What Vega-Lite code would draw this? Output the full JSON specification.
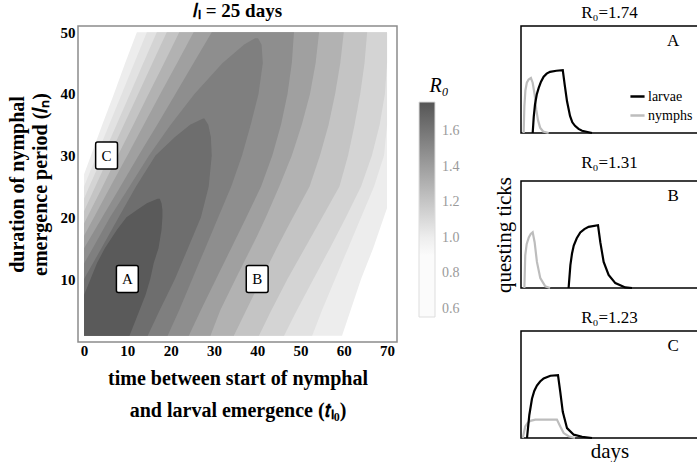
{
 "$schema": "https://vega.github.io/schema/vega-lite/v6.json",
 "padding": {"left": 6, "top": 1, "right": 0, "bottom": 0},
 "config": {"font": "Liberation Serif", "view": {"stroke": null}},
 "datasets": {
  "bands": [
   {"band":"s9","r0":1.005,"y":0.8,"xl":0,"xr":59.6},{"band":"s9","r0":1.005,"y":5,"xl":0,"xr":61.6},{"band":"s9","r0":1.005,"y":10,"xl":0,"xr":64},{"band":"s9","r0":1.005,"y":15,"xl":0,"xr":66.8},{"band":"s9","r0":1.005,"y":21.5,"xl":0,"xr":70},{"band":"s9","r0":1.005,"y":27,"xl":0,"xr":70},{"band":"s9","r0":1.005,"y":30,"xl":1.6,"xr":70},{"band":"s9","r0":1.005,"y":35,"xl":4.2,"xr":70},{"band":"s9","r0":1.005,"y":40,"xl":6.9,"xr":70},{"band":"s9","r0":1.005,"y":45,"xl":9.5,"xr":70},{"band":"s9","r0":1.005,"y":50,"xl":12.2,"xr":70},
   {"band":"s8","r0":1.06,"y":0.8,"xl":0,"xr":52.7},{"band":"s8","r0":1.06,"y":5,"xl":0,"xr":55},{"band":"s8","r0":1.06,"y":10,"xl":0,"xr":58},{"band":"s8","r0":1.06,"y":15,"xl":0,"xr":61},{"band":"s8","r0":1.06,"y":20,"xl":0,"xr":64},{"band":"s8","r0":1.06,"y":25,"xl":0,"xr":67},{"band":"s8","r0":1.06,"y":30,"xl":2.9,"xr":69.3},{"band":"s8","r0":1.06,"y":35,"xl":5.8,"xr":70},{"band":"s8","r0":1.06,"y":40,"xl":8.7,"xr":70},{"band":"s8","r0":1.06,"y":45,"xl":11.6,"xr":70},{"band":"s8","r0":1.06,"y":50,"xl":14.5,"xr":70},
   {"band":"s7","r0":1.13,"y":0.8,"xl":0,"xr":46.2},{"band":"s7","r0":1.13,"y":5,"xl":0,"xr":49.2},{"band":"s7","r0":1.13,"y":10,"xl":0,"xr":53},{"band":"s7","r0":1.13,"y":15,"xl":0,"xr":56.8},{"band":"s7","r0":1.13,"y":20,"xl":0,"xr":60.5},{"band":"s7","r0":1.13,"y":23,"xl":0,"xr":62.6},{"band":"s7","r0":1.13,"y":25,"xl":1.2,"xr":64},{"band":"s7","r0":1.13,"y":30,"xl":4.4,"xr":66.5},{"band":"s7","r0":1.13,"y":35,"xl":7.5,"xr":68.3},{"band":"s7","r0":1.13,"y":40,"xl":10.6,"xr":69.5},{"band":"s7","r0":1.13,"y":45,"xl":13.7,"xr":70},{"band":"s7","r0":1.13,"y":50,"xl":16.8,"xr":70},
   {"band":"s6","r0":1.209,"y":0.8,"xl":0,"xr":40.4},{"band":"s6","r0":1.209,"y":5,"xl":0,"xr":43.3},{"band":"s6","r0":1.209,"y":10,"xl":0,"xr":47},{"band":"s6","r0":1.209,"y":15,"xl":0,"xr":51},{"band":"s6","r0":1.209,"y":21,"xl":0,"xr":55.8},{"band":"s6","r0":1.209,"y":25,"xl":2.6,"xr":59},{"band":"s6","r0":1.209,"y":30,"xl":5.9,"xr":61},{"band":"s6","r0":1.209,"y":35,"xl":9.2,"xr":62.5},{"band":"s6","r0":1.209,"y":40,"xl":12.5,"xr":63.8},{"band":"s6","r0":1.209,"y":45,"xl":15.8,"xr":64.8},{"band":"s6","r0":1.209,"y":50,"xl":19.1,"xr":65.4},
   {"band":"s5","r0":1.299,"y":0.8,"xl":0,"xr":34.6},{"band":"s5","r0":1.299,"y":5,"xl":0,"xr":37.5},{"band":"s5","r0":1.299,"y":10,"xl":0,"xr":41},{"band":"s5","r0":1.299,"y":15,"xl":0,"xr":44.5},{"band":"s5","r0":1.299,"y":19,"xl":0,"xr":47.5},{"band":"s5","r0":1.299,"y":25,"xl":4.3,"xr":52.1},{"band":"s5","r0":1.299,"y":30,"xl":7.8,"xr":54.5},{"band":"s5","r0":1.299,"y":35,"xl":11.4,"xr":56.5},{"band":"s5","r0":1.299,"y":40,"xl":14.9,"xr":58},{"band":"s5","r0":1.299,"y":45,"xl":18.5,"xr":59.2},{"band":"s5","r0":1.299,"y":50,"xl":22,"xr":60},
   {"band":"s4","r0":1.389,"y":0.8,"xl":0,"xr":29.2},{"band":"s4","r0":1.389,"y":5,"xl":0,"xr":31.5},{"band":"s4","r0":1.389,"y":10,"xl":0,"xr":35},{"band":"s4","r0":1.389,"y":17,"xl":0,"xr":40},{"band":"s4","r0":1.389,"y":20,"xl":2.3,"xr":42},{"band":"s4","r0":1.389,"y":25,"xl":6.1,"xr":45.1},{"band":"s4","r0":1.389,"y":30,"xl":10,"xr":48},{"band":"s4","r0":1.389,"y":35,"xl":13.8,"xr":50.3},{"band":"s4","r0":1.389,"y":40,"xl":17.6,"xr":52.2},{"band":"s4","r0":1.389,"y":45,"xl":21.5,"xr":53.5},{"band":"s4","r0":1.389,"y":50,"xl":25.3,"xr":54.3},
   {"band":"s3","r0":1.479,"y":0.8,"xl":0,"xr":24.2},{"band":"s3","r0":1.479,"y":5,"xl":0,"xr":27},{"band":"s3","r0":1.479,"y":10,"xl":0,"xr":30.5},{"band":"s3","r0":1.479,"y":15,"xl":0,"xr":34},{"band":"s3","r0":1.479,"y":20,"xl":4.2,"xr":37.5},{"band":"s3","r0":1.479,"y":25,"xl":8.4,"xr":40.9},{"band":"s3","r0":1.479,"y":30,"xl":12.6,"xr":43.5},{"band":"s3","r0":1.479,"y":35,"xl":16.9,"xr":45.5},{"band":"s3","r0":1.479,"y":40,"xl":21.1,"xr":47},{"band":"s3","r0":1.479,"y":45,"xl":25.3,"xr":48},{"band":"s3","r0":1.479,"y":50,"xl":29.5,"xr":48.5},
   {"band":"s2","r0":1.554,"y":0.8,"xl":0,"xr":19.3},{"band":"s2","r0":1.554,"y":5,"xl":0,"xr":22},{"band":"s2","r0":1.554,"y":10,"xl":0,"xr":25},{"band":"s2","r0":1.554,"y":12.5,"xl":0,"xr":26.5},{"band":"s2","r0":1.554,"y":15,"xl":2,"xr":28},{"band":"s2","r0":1.554,"y":20,"xl":6,"xr":31},{"band":"s2","r0":1.554,"y":25,"xl":10.5,"xr":34},{"band":"s2","r0":1.554,"y":30,"xl":15,"xr":36.5},{"band":"s2","r0":1.554,"y":35,"xl":20,"xr":38.5},{"band":"s2","r0":1.554,"y":40,"xl":25.5,"xr":40.3},{"band":"s2","r0":1.554,"y":45,"xl":32,"xr":41.3},{"band":"s2","r0":1.554,"y":48,"xl":37,"xr":41},{"band":"s2","r0":1.554,"y":49,"xl":39.5,"xr":40.2},
   {"band":"s1","r0":1.638,"y":0.8,"xl":0,"xr":14.7},{"band":"s1","r0":1.638,"y":5,"xl":0,"xr":17.5},{"band":"s1","r0":1.638,"y":10,"xl":0,"xr":21},{"band":"s1","r0":1.638,"y":15,"xl":4,"xr":24},{"band":"s1","r0":1.638,"y":20,"xl":8,"xr":27},{"band":"s1","r0":1.638,"y":25,"xl":12,"xr":28.8},{"band":"s1","r0":1.638,"y":30,"xl":16.5,"xr":29.5},{"band":"s1","r0":1.638,"y":33,"xl":21,"xr":29.3},{"band":"s1","r0":1.638,"y":35,"xl":24.5,"xr":28.7},{"band":"s1","r0":1.638,"y":36,"xl":27.5,"xr":27.8},
   {"band":"s0","r0":1.738,"y":0.8,"xl":0,"xr":10.5},{"band":"s0","r0":1.738,"y":4,"xl":0,"xr":12.3},{"band":"s0","r0":1.738,"y":7.4,"xl":0,"xr":14.2},{"band":"s0","r0":1.738,"y":10,"xl":1.5,"xr":15.3},{"band":"s0","r0":1.738,"y":12.6,"xl":3,"xr":16.1},{"band":"s0","r0":1.738,"y":15,"xl":4.8,"xr":17.2},{"band":"s0","r0":1.738,"y":18,"xl":7.6,"xr":17.9},{"band":"s0","r0":1.738,"y":20,"xl":9.8,"xr":18.1},{"band":"s0","r0":1.738,"y":21.2,"xl":12.2,"xr":18.1},{"band":"s0","r0":1.738,"y":22.3,"xl":14.5,"xr":17.9},{"band":"s0","r0":1.738,"y":23,"xl":17,"xr":17.5}
  ],
  "marks": [
   {"lab":"A","t":10,"l":10},{"lab":"B","t":40,"l":10},{"lab":"C","t":5.2,"l":30}
  ],
  "ticks": [
   {"p":"A","s":"nymphs","d":1.5,"v":0},{"p":"A","s":"nymphs","d":1.9,"v":0.25},{"p":"A","s":"nymphs","d":2.5,"v":0.4},{"p":"A","s":"nymphs","d":3.3,"v":0.47},{"p":"A","s":"nymphs","d":4.3,"v":0.5},{"p":"A","s":"nymphs","d":5.6,"v":0.514},{"p":"A","s":"nymphs","d":6.6,"v":0.47},{"p":"A","s":"nymphs","d":7.7,"v":0.36},{"p":"A","s":"nymphs","d":8.6,"v":0.22},{"p":"A","s":"nymphs","d":9.6,"v":0.12},{"p":"A","s":"nymphs","d":10.8,"v":0.05},{"p":"A","s":"nymphs","d":12.5,"v":0.014},{"p":"A","s":"nymphs","d":15.6,"v":0},
   {"p":"A","s":"larvae","d":6.6,"v":0},{"p":"A","s":"larvae","d":7.2,"v":0.15},{"p":"A","s":"larvae","d":7.9,"v":0.266},{"p":"A","s":"larvae","d":8.9,"v":0.36},{"p":"A","s":"larvae","d":10.0,"v":0.422},{"p":"A","s":"larvae","d":11.3,"v":0.48},{"p":"A","s":"larvae","d":12.8,"v":0.526},{"p":"A","s":"larvae","d":14.5,"v":0.555},{"p":"A","s":"larvae","d":16.4,"v":0.572},{"p":"A","s":"larvae","d":20,"v":0.582},{"p":"A","s":"larvae","d":23.6,"v":0.587},{"p":"A","s":"larvae","d":24.7,"v":0.45},{"p":"A","s":"larvae","d":26.0,"v":0.296},{"p":"A","s":"larvae","d":27.7,"v":0.159},{"p":"A","s":"larvae","d":29,"v":0.1},{"p":"A","s":"larvae","d":30.5,"v":0.067},{"p":"A","s":"larvae","d":32.5,"v":0.038},{"p":"A","s":"larvae","d":34.5,"v":0.021},{"p":"A","s":"larvae","d":40.1,"v":0},
   {"p":"B","s":"nymphs","d":1.9,"v":0},{"p":"B","s":"nymphs","d":2.4,"v":0.306},{"p":"B","s":"nymphs","d":3.2,"v":0.41},{"p":"B","s":"nymphs","d":4.4,"v":0.473},{"p":"B","s":"nymphs","d":5.5,"v":0.505},{"p":"B","s":"nymphs","d":6.6,"v":0.52},{"p":"B","s":"nymphs","d":7.7,"v":0.428},{"p":"B","s":"nymphs","d":9.0,"v":0.244},{"p":"B","s":"nymphs","d":10.9,"v":0.092},{"p":"B","s":"nymphs","d":13.7,"v":0.015},{"p":"B","s":"nymphs","d":16.4,"v":0},
   {"p":"B","s":"larvae","d":26.9,"v":0},{"p":"B","s":"larvae","d":27.9,"v":0.214},{"p":"B","s":"larvae","d":28.8,"v":0.32},{"p":"B","s":"larvae","d":29.8,"v":0.397},{"p":"B","s":"larvae","d":31.5,"v":0.465},{"p":"B","s":"larvae","d":33.5,"v":0.519},{"p":"B","s":"larvae","d":35.8,"v":0.55},{"p":"B","s":"larvae","d":38.2,"v":0.572},{"p":"B","s":"larvae","d":43.5,"v":0.587},{"p":"B","s":"larvae","d":44.8,"v":0.428},{"p":"B","s":"larvae","d":46.7,"v":0.244},{"p":"B","s":"larvae","d":49.5,"v":0.122},{"p":"B","s":"larvae","d":53.3,"v":0.046},{"p":"B","s":"larvae","d":58.9,"v":0.005},{"p":"B","s":"larvae","d":62.7,"v":0},
   {"p":"C","s":"nymphs","d":1.0,"v":0},{"p":"C","s":"nymphs","d":2.4,"v":0.107},{"p":"C","s":"nymphs","d":3.8,"v":0.142},{"p":"C","s":"nymphs","d":5.3,"v":0.16},{"p":"C","s":"nymphs","d":8.1,"v":0.172},{"p":"C","s":"nymphs","d":20.3,"v":0.172},{"p":"C","s":"nymphs","d":22.2,"v":0.107},{"p":"C","s":"nymphs","d":24.1,"v":0.046},{"p":"C","s":"nymphs","d":26.9,"v":0.016},{"p":"C","s":"nymphs","d":30.5,"v":0},
   {"p":"C","s":"larvae","d":3.4,"v":0},{"p":"C","s":"larvae","d":4.7,"v":0.215},{"p":"C","s":"larvae","d":6.2,"v":0.367},{"p":"C","s":"larvae","d":7.5,"v":0.44},{"p":"C","s":"larvae","d":9.0,"v":0.49},{"p":"C","s":"larvae","d":10.8,"v":0.528},{"p":"C","s":"larvae","d":12.8,"v":0.557},{"p":"C","s":"larvae","d":16.6,"v":0.582},{"p":"C","s":"larvae","d":20.9,"v":0.587},{"p":"C","s":"larvae","d":22.2,"v":0.428},{"p":"C","s":"larvae","d":23.6,"v":0.245},{"p":"C","s":"larvae","d":26.0,"v":0.092},{"p":"C","s":"larvae","d":29.8,"v":0.031},{"p":"C","s":"larvae","d":34.5,"v":0.012},{"p":"C","s":"larvae","d":40.1,"v":0}
  ],
  "plabels": [
   {"p":"A","lab":"A","d":86,"v":0.86},{"p":"B","lab":"B","d":86,"v":0.86},{"p":"C","lab":"C","d":86,"v":0.86}
  ]
 },
 "hconcat": [
  {
   "width": 319, "height": 316,
   "view": {"stroke": "#8c8c8c", "strokeWidth": 1.5},
   "title": {"text": "𝑙ₗ = 25 days", "fontSize": 19, "fontWeight": "bold", "font": "Liberation Serif", "color": "black", "offset": 4},
   "layer": [
    {
     "data": {"name": "bands"},
     "mark": {"type": "area", "orient": "horizontal", "interpolate": "linear"},
     "encoding": {
      "y": {"field": "y", "type": "quantitative", "scale": {"domain": [-0.2, 51], "nice": false, "zero": false},
            "axis": {"values": [10, 20, 30, 40, 50], "title": ["duration of nymphal", "emergence period (𝑙ₙ)"], "grid": false, "ticks": false, "domain": false, "labelFlush": false, "labelFont": "Liberation Serif", "labelFontSize": 15, "labelFontWeight": "bold", "labelColor": "black", "labelPadding": 3, "titleFont": "Liberation Serif", "titleFontSize": 20, "titleFontWeight": "bold", "titleColor": "black", "titlePadding": 10, "titleLineHeight": 23}},
      "x": {"field": "xl", "type": "quantitative", "scale": {"domain": [-1.4, 72.3], "nice": false, "zero": false},
            "axis": {"values": [0, 10, 20, 30, 40, 50, 60, 70], "title": ["time between start of nymphal", "and larval emergence (𝑡ₗ₀)"], "grid": false, "ticks": false, "domain": false, "labelFlush": false, "labelFont": "Liberation Serif", "labelFontSize": 15, "labelFontWeight": "bold", "labelColor": "black", "labelPadding": 1, "titleFont": "Liberation Serif", "titleFontSize": 20, "titleFontWeight": "bold", "titleColor": "black", "titlePadding": 10, "titleLineHeight": 32}},
      "x2": {"field": "xr"},
      "detail": {"field": "band", "type": "nominal"},
      "fill": {"field": "r0", "type": "quantitative",
               "scale": {"type": "linear", "domain": [0.555, 0.9999, 1.0, 1.763], "range": ["#fbfbfb", "#fbfbfb", "#eeeeee", "#555555"], "interpolate": "rgb", "clamp": true},
               "legend": {"orient": "none", "legendX": 341, "legendY": 50, "direction": "vertical", "title": "R₀", "titleFontStyle": "italic", "titleFontWeight": "normal", "titleFontSize": 20, "titleFont": "Liberation Serif", "titleColor": "black", "titleAnchor": "middle", "titlePadding": 6, "gradientLength": 215, "gradientThickness": 16, "values": [0.6, 0.8, 1.0, 1.2, 1.4, 1.6], "format": ".1f", "tickCount": 100, "labelColor": "#9a9a9a", "labelFontSize": 14, "labelFont": "Liberation Serif", "labelOffset": 7, "gradientStrokeColor": "#dddddd", "gradientStrokeWidth": 1}}
     }
    },
    {
     "data": {"name": "marks"},
     "mark": {"type": "point", "shape": "M-0.66,-1L0.66,-1Q0.81,-1 0.81,-0.85L0.81,0.85Q0.81,1 0.66,1L-0.66,1Q-0.81,1 -0.81,0.85L-0.81,-0.85Q-0.81,-1 -0.66,-1Z", "size": 729, "filled": true, "fill": "white", "stroke": "black", "strokeWidth": 1.5, "opacity": 1},
     "encoding": {
      "x": {"field": "t", "type": "quantitative"},
      "y": {"field": "l", "type": "quantitative"}
     }
    },
    {
     "data": {"name": "marks"},
     "mark": {"type": "text", "fontSize": 15, "font": "Liberation Serif", "color": "black"},
     "encoding": {
      "x": {"field": "t", "type": "quantitative"},
      "y": {"field": "l", "type": "quantitative"},
      "text": {"field": "lab"}
     }
    }
   ]
  },
  {
   "spacing": 14,
   "resolve": {"legend": {"stroke": "independent"}},
   "vconcat": [
    {
     "width": 177, "height": 107,
     "view": {"stroke": "black", "strokeWidth": 1.5},
     "title": {"text": "R₀=1.74", "fontSize": 17, "fontWeight": "normal", "font": "Liberation Serif", "color": "black", "offset": 4},
     "layer": [
      {"data": {"name": "ticks"}, "transform": [{"filter": "datum.p == 'A'"}],
       "mark": {"type": "line", "strokeWidth": 2.2},
       "encoding": {
        "x": {"field": "d", "type": "quantitative", "scale": {"domain": [0, 100], "nice": false}, "axis": null},
        "y": {"field": "v", "type": "quantitative", "scale": {"domain": [0, 1], "nice": false}, "axis": null},
        "stroke": {"field": "s", "type": "nominal", "scale": {"domain": ["larvae", "nymphs"], "range": ["black", "#bdbdbd"]},
                   "legend": {"orient": "none", "legendX": 108, "legendY": 62, "title": null, "symbolType": "stroke", "symbolSize": 200, "symbolStrokeWidth": 2.5, "labelFont": "Liberation Serif", "labelFontSize": 14, "labelColor": "black", "labelOffset": 2, "rowPadding": 3}}
       }},
      {"data": {"name": "plabels"}, "transform": [{"filter": "datum.p == 'A'"}],
       "mark": {"type": "text", "fontSize": 17, "font": "Liberation Serif", "color": "black"},
       "encoding": {"x": {"field": "d", "type": "quantitative"}, "y": {"field": "v", "type": "quantitative"}, "text": {"field": "lab"}}}
     ]
    },
    {
     "width": 177, "height": 107,
     "view": {"stroke": "black", "strokeWidth": 1.5},
     "title": {"text": "R₀=1.31", "fontSize": 17, "fontWeight": "normal", "font": "Liberation Serif", "color": "black", "offset": 4},
     "layer": [
      {"data": {"name": "ticks"}, "transform": [{"filter": "datum.p == 'B'"}],
       "mark": {"type": "line", "strokeWidth": 2.2},
       "encoding": {
        "x": {"field": "d", "type": "quantitative", "scale": {"domain": [0, 100], "nice": false}, "axis": null},
        "y": {"field": "v", "type": "quantitative", "scale": {"domain": [0, 1], "nice": false},
              "axis": {"title": "questing ticks", "labels": false, "ticks": false, "domain": false, "grid": false, "titleFont": "Liberation Serif", "titleFontSize": 21, "titleFontWeight": "normal", "titleColor": "black", "titlePadding": 7}},
        "stroke": {"field": "s", "type": "nominal", "scale": {"domain": ["larvae", "nymphs"], "range": ["black", "#bdbdbd"]}, "legend": null}
       }},
      {"data": {"name": "plabels"}, "transform": [{"filter": "datum.p == 'B'"}],
       "mark": {"type": "text", "fontSize": 17, "font": "Liberation Serif", "color": "black"},
       "encoding": {"x": {"field": "d", "type": "quantitative"}, "y": {"field": "v", "type": "quantitative"}, "text": {"field": "lab"}}}
     ]
    },
    {
     "width": 177, "height": 107,
     "view": {"stroke": "black", "strokeWidth": 1.5},
     "title": {"text": "R₀=1.23", "fontSize": 17, "fontWeight": "normal", "font": "Liberation Serif", "color": "black", "offset": 4},
     "layer": [
      {"data": {"name": "ticks"}, "transform": [{"filter": "datum.p == 'C'"}],
       "mark": {"type": "line", "strokeWidth": 2.2},
       "encoding": {
        "x": {"field": "d", "type": "quantitative", "scale": {"domain": [0, 100], "nice": false},
              "axis": {"title": "days", "labels": false, "ticks": false, "domain": false, "grid": false, "titleFont": "Liberation Serif", "titleFontSize": 21, "titleFontWeight": "normal", "titleColor": "black", "titlePadding": 2}},
        "y": {"field": "v", "type": "quantitative", "scale": {"domain": [0, 1], "nice": false}, "axis": null},
        "stroke": {"field": "s", "type": "nominal", "scale": {"domain": ["larvae", "nymphs"], "range": ["black", "#bdbdbd"]}, "legend": null}
       }},
      {"data": {"name": "plabels"}, "transform": [{"filter": "datum.p == 'C'"}],
       "mark": {"type": "text", "fontSize": 17, "font": "Liberation Serif", "color": "black"},
       "encoding": {"x": {"field": "d", "type": "quantitative"}, "y": {"field": "v", "type": "quantitative"}, "text": {"field": "lab"}}}
     ]
    }
   ]
  }
 ],
 "spacing": 31,
 "resolve": {"scale": {"fill": "independent", "stroke": "independent"}, "legend": {"fill": "independent", "stroke": "independent"}}
}
